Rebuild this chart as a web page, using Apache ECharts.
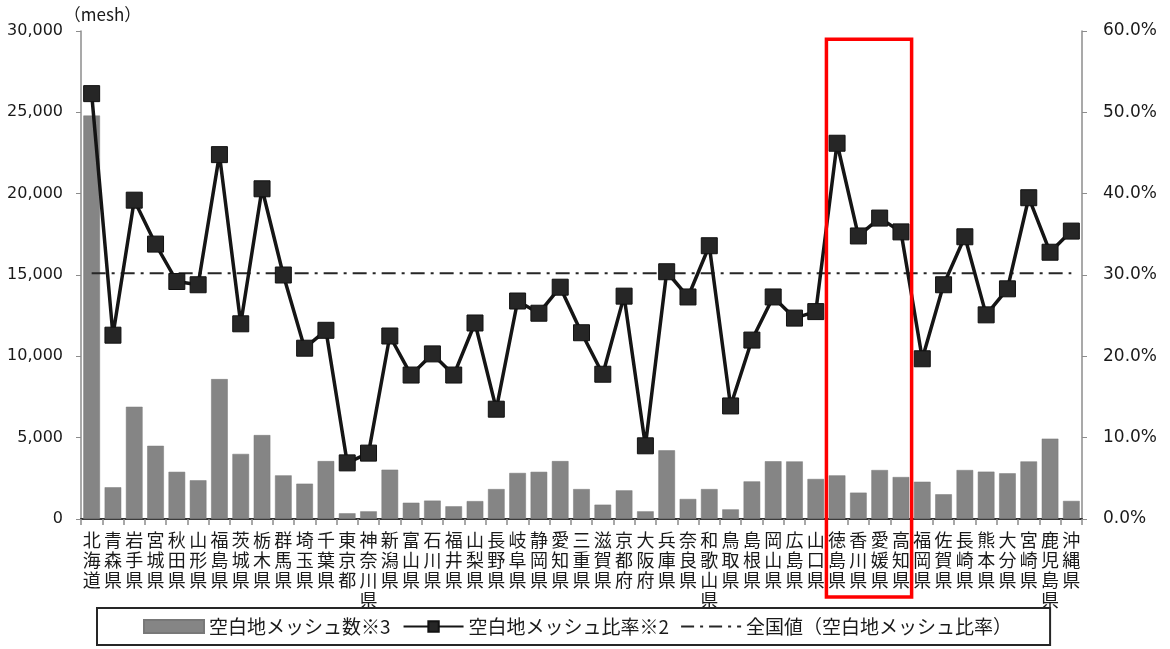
<!DOCTYPE html>
<html lang="ja">
<head>
<meta charset="utf-8">
<title>空白地メッシュ数と比率（都道府県別）</title>
<script src="https://cdn.jsdelivr.net/npm/echarts@6/dist/echarts.min.js"></script>
<style>
  html, body { margin: 0; padding: 0; background: #fff; }
  #chart { width: 1170px; height: 649px; }
</style>
</head>
<body>
<div id="chart"></div>
<script>
// 都道府県（北から南へ）
const PREFECTURES = [
  '北海道', '青森県', '岩手県', '宮城県', '秋田県', '山形県', '福島県',
  '茨城県', '栃木県', '群馬県', '埼玉県', '千葉県', '東京都', '神奈川県',
  '新潟県', '富山県', '石川県', '福井県', '山梨県', '長野県', '岐阜県',
  '静岡県', '愛知県', '三重県', '滋賀県', '京都府', '大阪府', '兵庫県',
  '奈良県', '和歌山県', '鳥取県', '島根県', '岡山県', '広島県', '山口県',
  '徳島県', '香川県', '愛媛県', '高知県', '福岡県', '佐賀県', '長崎県',
  '熊本県', '大分県', '宮崎県', '鹿児島県', '沖縄県'
];

// 空白地メッシュ数（mesh）
const BLANK_MESH_COUNT = [
  24800, 1950, 6900, 4500, 2900, 2380, 8600,
  4000, 5160, 2680, 2170, 3560, 350, 470,
  3030, 1000, 1130, 780, 1100, 1840, 2830,
  2900, 3560, 1840, 880, 1760, 470, 4220,
  1230, 1840, 590, 2310, 3550, 3540, 2460,
  2680, 1620, 3010, 2580, 2290, 1520, 3010,
  2910, 2810, 3540, 4940, 1110
];

// 空白地メッシュ比率（%）
const BLANK_MESH_RATIO = [
  52.3, 22.6, 39.2, 33.8, 29.2, 28.8, 44.8,
  24.0, 40.6, 30.0, 21.0, 23.2, 6.9, 8.1,
  22.5, 17.7, 20.3, 17.7, 24.1, 13.5, 26.8,
  25.3, 28.5, 22.9, 17.8, 27.4, 9.0, 30.4,
  27.3, 33.6, 13.9, 22.0, 27.3, 24.7, 25.5,
  46.2, 34.8, 37.0, 35.3, 19.7, 28.8, 34.7,
  25.1, 28.3, 39.5, 32.8, 35.4
];

// 全国値（空白地メッシュ比率, %）
const NATIONAL_RATIO = 30.2;

// 軸の目盛り
const COUNT_AXIS = { min: 0, max: 30000, interval: 5000 };
const RATIO_AXIS = { min: 0, max: 60, interval: 10 };

// 強調する県（四国）
const HIGHLIGHT_FROM = '徳島県';
const HIGHLIGHT_TO = '高知県';

const SERIES_COUNT = '空白地メッシュ数※3';
const SERIES_RATIO = '空白地メッシュ比率※2';
const SERIES_NATIONAL = '全国値（空白地メッシュ比率）';

const JP_FONT = '"Noto Sans CJK JP", "Noto Sans", sans-serif';
const NUM_FONT = '"DejaVu Sans", "Noto Sans", sans-serif';
const AXIS_GRAY = '#8c8c8c';

// 凡例用の一点鎖線アイコン
const DASH_DOT_ICON = 'path://M0,0h13v2.2h-13z M19,0h3v2.2h-3z M28,0h13v2.2h-13z M47,0h3v2.2h-3z M56,0h4v2.2h-4z';

const chart = echarts.init(document.getElementById('chart'), null, { renderer: 'canvas' });

const option = {
  animation: false,
  backgroundColor: '#ffffff',
  grid: { left: 81, right: 88, top: 31, bottom: 130, containLabel: false },
  legend: {
    left: 97,
    top: 608,
    orient: 'horizontal',
    padding: [9, 38, 9, 46],
    borderColor: '#262626',
    borderWidth: 2,
    itemWidth: 60,
    itemHeight: 13,
    itemGap: 12,
    textStyle: { fontFamily: JP_FONT, fontSize: 19, color: '#1a1a1a' },
    data: [
      { name: SERIES_COUNT, icon: 'rect' },
      { name: SERIES_RATIO },
      { name: SERIES_NATIONAL, icon: DASH_DOT_ICON }
    ]
  },
  xAxis: [
    {
      type: 'category',
      data: PREFECTURES,
      boundaryGap: true,
      axisLine: { show: true, lineStyle: { color: AXIS_GRAY, width: 1.5 } },
      axisTick: { show: true, alignWithLabel: false, length: 6, lineStyle: { color: AXIS_GRAY, width: 1.5 } },
      axisLabel: {
        interval: 0,
        margin: 11,
        fontFamily: JP_FONT,
        fontSize: 18,
        lineHeight: 20,
        color: '#1a1a1a',
        verticalAlign: 'top',
        formatter: (v) => v.split('').join('\n')
      },
      splitLine: { show: false }
    },
    {
      // 上端の枠線
      type: 'category',
      position: 'top',
      data: PREFECTURES,
      axisLine: { show: true, lineStyle: { color: '#333333', width: 2 } },
      axisTick: { show: false },
      axisLabel: { show: false },
      splitLine: { show: false }
    }
  ],
  yAxis: [
    {
      type: 'value',
      min: COUNT_AXIS.min,
      max: COUNT_AXIS.max,
      interval: COUNT_AXIS.interval,
      name: '（mesh）',
      nameLocation: 'end',
      nameGap: 8,
      nameTextStyle: {
        fontFamily: JP_FONT, fontSize: 17, color: '#1a1a1a',
        align: 'center', padding: [0, 0, 0, 43]
      },
      axisLine: { show: true, lineStyle: { color: AXIS_GRAY, width: 1.5 } },
      axisTick: { show: true, inside: false, length: 5, lineStyle: { color: AXIS_GRAY } },
      axisLabel: {
        margin: 18,
        fontFamily: NUM_FONT,
        fontSize: 16,
        color: '#1a1a1a',
        formatter: (v) => v.toLocaleString('en-US')
      },
      splitLine: { show: false }
    },
    {
      type: 'value',
      position: 'right',
      min: RATIO_AXIS.min,
      max: RATIO_AXIS.max,
      interval: RATIO_AXIS.interval,
      axisLine: { show: true, lineStyle: { color: AXIS_GRAY, width: 1.5 } },
      axisTick: { show: true, inside: false, length: 5, lineStyle: { color: AXIS_GRAY } },
      axisLabel: {
        margin: 21,
        fontFamily: NUM_FONT,
        fontSize: 17,
        color: '#1a1a1a',
        formatter: (v) => v.toFixed(1) + '%'
      },
      splitLine: { show: false }
    }
  ],
  series: [
    {
      name: SERIES_COUNT,
      type: 'bar',
      xAxisIndex: 0,
      yAxisIndex: 0,
      data: BLANK_MESH_COUNT,
      barCategoryGap: '22%',
      itemStyle: { color: '#858585', borderColor: '#787878', borderWidth: 0.5 },
      z: 2
    },
    {
      name: SERIES_NATIONAL,
      type: 'line',
      xAxisIndex: 0,
      yAxisIndex: 1,
      data: [
        [PREFECTURES[0], NATIONAL_RATIO],
        [PREFECTURES[PREFECTURES.length - 1], NATIONAL_RATIO]
      ],
      symbol: 'none',
      symbolKeepAspect: true,
      lineStyle: { color: '#262626', width: 2, type: [14, 6, 3, 6] },
      itemStyle: { color: '#262626' },
      z: 3
    },
    {
      name: SERIES_RATIO,
      type: 'line',
      xAxisIndex: 0,
      yAxisIndex: 1,
      data: BLANK_MESH_RATIO,
      symbol: 'rect',
      symbolSize: 16,
      lineStyle: { color: '#151515', width: 3.5 },
      itemStyle: { color: '#262626', borderColor: '#111111', borderWidth: 1 },
      z: 4
    }
  ]
};

chart.setOption(option);

// 四国4県を囲む赤枠（カテゴリ軸の区切りに合わせる）
function drawHighlight() {
  const i0 = PREFECTURES.indexOf(HIGHLIGHT_FROM);
  const i1 = PREFECTURES.indexOf(HIGHLIGHT_TO);
  const c0 = chart.convertToPixel({ xAxisIndex: 0 }, i0);
  const c1 = chart.convertToPixel({ xAxisIndex: 0 }, i0 + 1);
  const c2 = chart.convertToPixel({ xAxisIndex: 0 }, i1);
  const band = c1 - c0;
  const x0 = c0 - band / 2;
  const x1 = c2 + band / 2;
  const yTop = chart.convertToPixel({ yAxisIndex: 0 }, 29500);
  const yBase = chart.convertToPixel({ yAxisIndex: 0 }, 0);
  const yBottom = yBase + 78;
  chart.setOption({
    graphic: [{
      type: 'rect',
      shape: { x: x0, y: yTop, width: x1 - x0, height: yBottom - yTop },
      style: { fill: 'none', stroke: '#ff0000', lineWidth: 3.5 },
      z: 100
    }]
  });
}
drawHighlight();
</script>
</body>
</html>
